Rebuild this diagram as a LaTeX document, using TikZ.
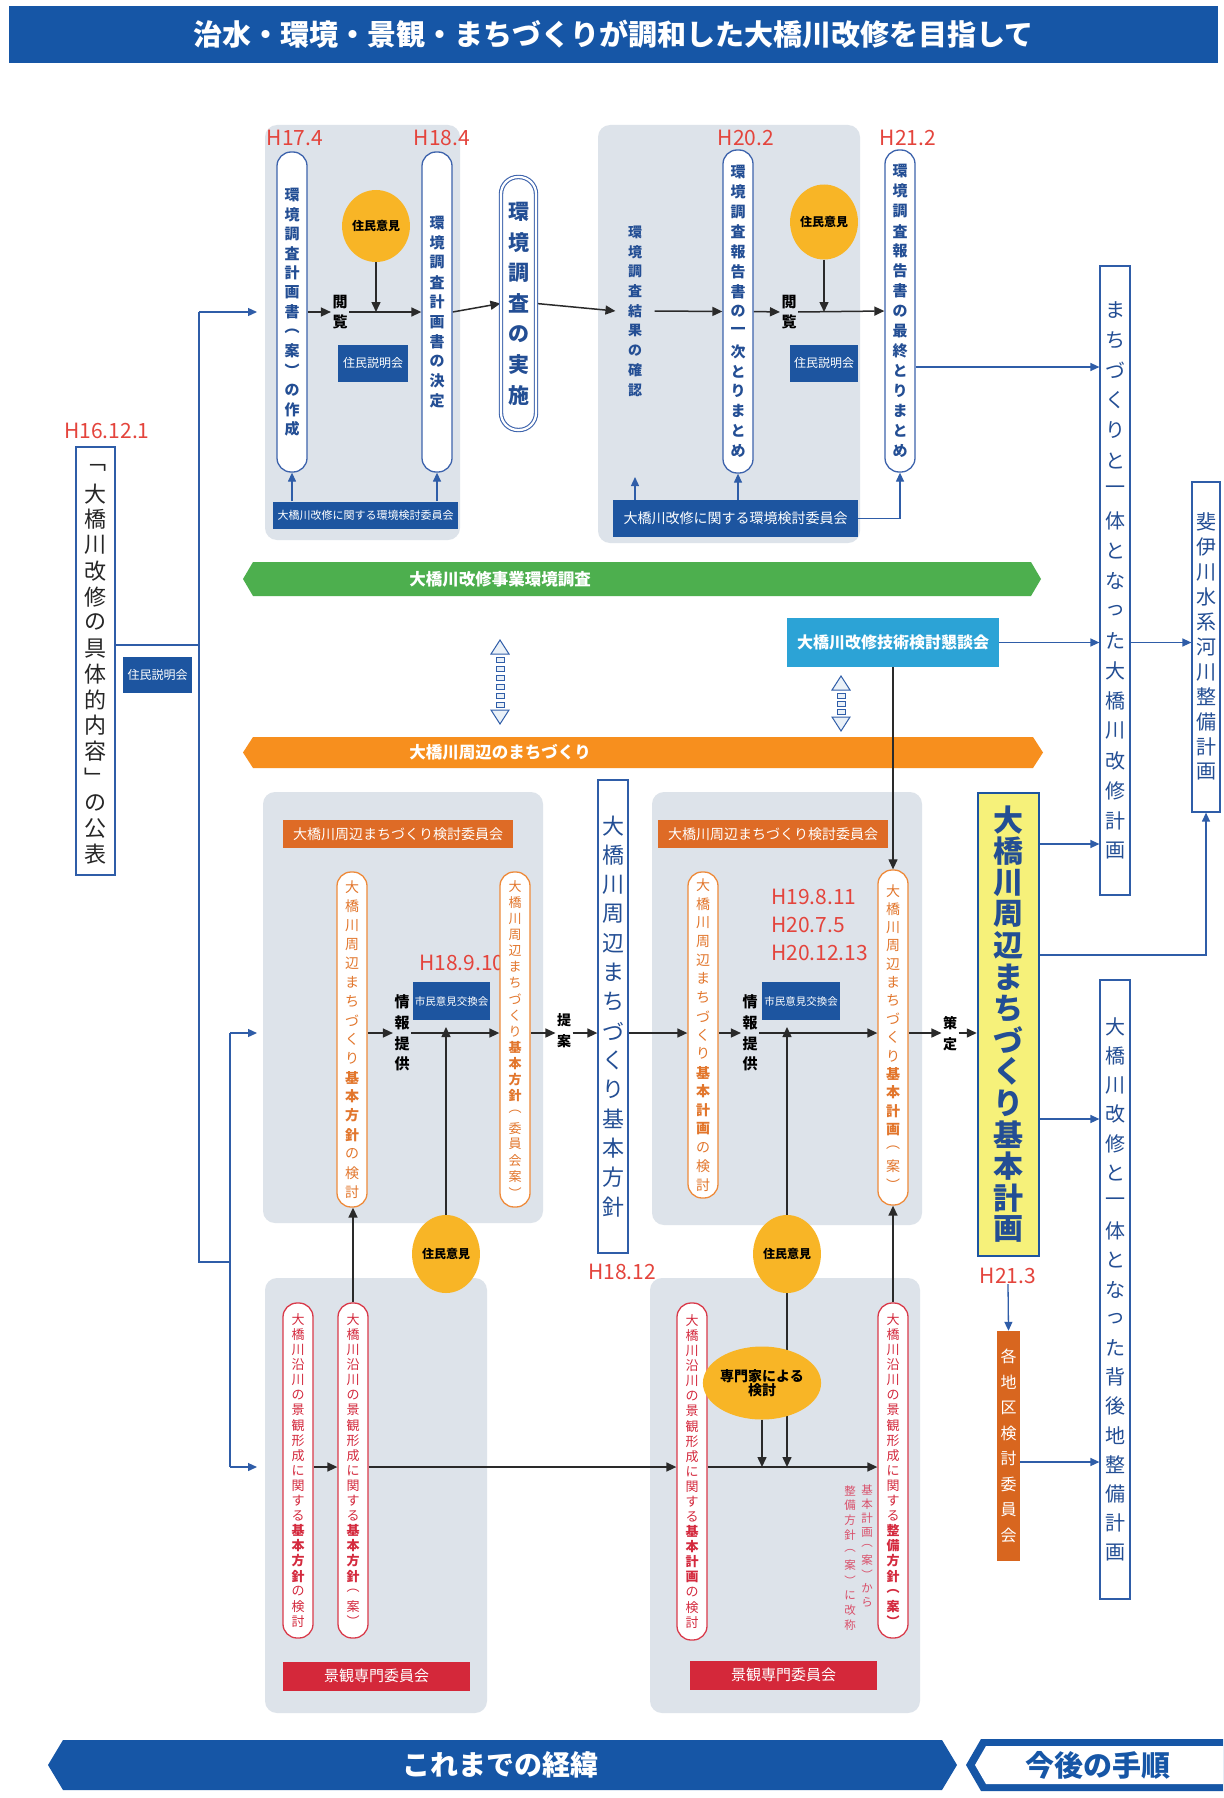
\documentclass[tikz,border=0pt]{standalone}
\usepackage{fontspec}
\setmainfont{Noto Sans CJK JP}
\usetikzlibrary{arrows.meta,shapes.geometric}
\pgfdeclarelayer{bg}
\pgfdeclarelayer{lines}
\pgfsetlayers{bg,lines,main}
\definecolor{titleblue}{HTML}{1656A6}
\definecolor{boxblue}{HTML}{1D55A0}
\definecolor{lineblue}{HTML}{2F5DA8}
\definecolor{pillblue}{HTML}{3D63AC}
\definecolor{txtblue}{HTML}{234E94}
\definecolor{datered}{HTML}{E4443C}
\definecolor{circyellow}{HTML}{F8B526}
\definecolor{panelgray}{HTML}{DDE3EA}
\definecolor{greenbar}{HTML}{4DAF4E}
\definecolor{orangebar}{HTML}{F78F1E}
\definecolor{orangehdr}{HTML}{DE6B26}
\definecolor{orangeline}{HTML}{EE8A3A}
\definecolor{orangetxt}{HTML}{E2762C}
\definecolor{redline}{HTML}{D93A4A}
\definecolor{redtxt}{HTML}{D42A3E}
\definecolor{redbox}{HTML}{D4283A}
\definecolor{konwa}{HTML}{2CA3D6}
\definecolor{yellowfill}{HTML}{F6F17A}
\definecolor{kakuchi}{HTML}{D8661F}
\definecolor{arrowblack}{HTML}{2A2A2A}
\definecolor{dblfill}{HTML}{EAF1F8}
\definecolor{notered}{HTML}{D9506A}
\makeatletter
\def\vtEND{VTEND}\def\vtB{VTB}\def\vtN{VTN}
\newdimen\vt@cell
\newcommand\vt[2][1.4em]{\vbox{\offinterlineskip\vt@cell=#1\relax\vt@loop#2\vtEND}}
\def\vt@loop#1{%
  \ifx\vtEND#1\let\vt@next\relax
  \else
    \ifx\vtB#1\bfseries\else
    \ifx\vtN#1\mdseries\else
      \vbox to\vt@cell{\vss\hbox to 1.05em{\hss#1\hss}\vss}%
    \fi\fi
    \let\vt@next\vt@loop
  \fi\vt@next}
\makeatother
\newcommand\mydblarrow[4]{%
  \draw[lineblue, line width=1pt, fill=dblfill] (#1-9,#2+14) -- (#1,#2) -- (#1+9,#2+14) -- cycle;
  \draw[lineblue, line width=1pt, fill=dblfill] (#1-9,#3-14) -- (#1,#3) -- (#1+9,#3-14) -- cycle;
  \foreach \yy in {#4} {\draw[lineblue, line width=0.9pt, fill=dblfill] (#1-4,\yy) rectangle (#1+4,\yy+5);}
}
\begin{document}
\begin{tikzpicture}[x=1pt,y=-1pt,
  fsz/.style={font=\fontsize{#1}{#1}\selectfont},
  bfsz/.style={font=\fontsize{#1}{#1}\selectfont\bfseries},
  panel/.style={fill=panelgray, rounded corners=12pt},
  pill/.style={draw=#1, line width=1.3pt, fill=white, rounded corners=14pt, inner sep=0pt, minimum width=30pt},
  datelbl/.style={text=datered, fsz=21, inner sep=0pt},
  smallbox/.style={fill=boxblue, text=white, inner sep=0pt},
  ycirc/.style={ellipse, fill=circyellow, inner sep=0pt, bfsz=12, text=black},
  rbox/.style={draw=lineblue, line width=1.2pt, fill=white, minimum width=30pt, inner sep=0pt, text=txtblue, fsz=20},
  ohdr/.style={fill=orangehdr, text=white, fsz=14, minimum width=230pt, minimum height=28pt, inner sep=0pt},
  kbox/.style={fill=redbox, text=white, fsz=15, minimum width=187pt, minimum height=29pt, inner sep=0pt},
  farrow/.style={draw=arrowblack, line width=1.5pt, -{Triangle[length=10pt,width=9pt]}},
  fline/.style={draw=arrowblack, line width=1.5pt},
  barrow/.style={draw=lineblue, line width=1.3pt, -{Triangle[length=9pt,width=8pt]}},
  bline/.style={draw=lineblue, line width=1.3pt}
]
\useasboundingbox (0,0) rectangle (1223,1798);
\begin{pgfonlayer}{bg}
\fill[white] (0,0) rectangle (1223,1798);
\fill[panel] (265,125) rectangle (460,540);
\fill[panel] (598,125) rectangle (860,543);
\fill[panel] (263,792) rectangle (543,1223);
\fill[panel] (652,792) rectangle (922,1225);
\fill[panel] (265,1278) rectangle (487,1713);
\fill[panel] (650,1278) rectangle (920,1713);
\fill[greenbar] (243,579) -- (253,562) -- (1031,562) -- (1041,579) -- (1031,596) -- (253,596) -- cycle;
\fill[orangebar] (243,752.5) -- (253,737) -- (1033,737) -- (1043,752.5) -- (1033,768) -- (253,768) -- cycle;
\fill[titleblue] (48,1765) -- (63,1740) -- (942,1740) -- (957,1765) -- (942,1790) -- (63,1790) -- cycle;
\fill[titleblue] (966,1765) -- (981,1739) -- (1223,1739) -- (1223,1791) -- (981,1791) -- cycle;
\fill[white] (975,1765) -- (986,1746) -- (1223,1746) -- (1223,1784) -- (986,1784) -- cycle;
\end{pgfonlayer}

% title
\node[fill=titleblue, minimum width=1209pt, minimum height=57pt, inner sep=0pt, text=white, bfsz=29] (title) at (613.5,34.5) {治水・環境・景観・まちづくりが調和した大橋川改修を目指して};

% left
\node[datelbl] (d0) at (107,431) {H16.12.1};
\node[draw=lineblue, line width=1.3pt, fill=white, minimum width=39pt, minimum height=428pt, inner sep=0pt, text=black!85, fsz=22] (kohyo) at (95.5,661) {\vt[1.17em]{﹁大橋川改修の具体的内容﹂の公表}};
\node[smallbox, minimum width=69pt, minimum height=36pt, fsz=12] (s0) at (157.5,675) {住民説明会};
\coordinate (spk) at (199,645);
\coordinate (sp1) at (199,312);
\coordinate (sp2) at (199,1262);
\coordinate (sp3) at (230,1262);
\coordinate (sp4) at (230,1033);
\coordinate (sp5) at (230,1467);
\coordinate (tg1) at (257,312);
\coordinate (tg2) at (257,1033);
\coordinate (tg3) at (257,1467);

% top left panel
\node[datelbl] (d1) at (295,138) {H17.4};
\node[datelbl] (d2) at (442,138) {H18.4};
\node[pill=pillblue, minimum height=320pt, text=txtblue, bfsz=15] (p1) at (292,312) {\vt[1.3em]{環境調査計画書︵案︶の作成}};
\node[pill=pillblue, minimum height=320pt, text=txtblue, bfsz=15] (p2) at (437,312) {\vt[1.32em]{環境調査計画書の決定}};
\node[ycirc, minimum width=52pt, minimum height=72pt] (c1) at (376,226) {住民意見};
\node[bfsz=15, inner sep=1pt] (e1) at (340,312) {\vt[1.37em]{閲覧}};
\node[smallbox, minimum width=70pt, minimum height=37pt, fsz=12] (s1) at (373,363) {住民説明会};
\node[smallbox, minimum width=185pt, minimum height=27pt, fsz=11] (m1) at (365.5,515) {大橋川改修に関する環境検討委員会};
\node[draw=pillblue, line width=1.1pt, double=white, double distance=2.2pt, fill=white, rounded corners=17pt, minimum width=35pt, minimum height=253pt, inner sep=0pt, text=txtblue, bfsz=21] (p3) at (518.5,303.5) {\vt[1.46em]{環境調査の実施}};

% top right panel
\node[bfsz=14, text=txtblue, inner xsep=12pt, inner ysep=0pt] (k1) at (635,311) {\vt[1.41em]{環境調査結果の確認}};
\coordinate (k1b) at (635,477);
\node[datelbl] (d3) at (746,138) {H20.2};
\node[datelbl] (d4) at (908,138) {H21.2};
\node[pill=pillblue, minimum height=323pt, text=txtblue, bfsz=15] (p4) at (738,311.5) {\vt[1.33em]{環境調査報告書の一次とりまとめ}};
\node[bfsz=15, inner sep=1pt] (e2) at (789,312) {\vt[1.37em]{閲覧}};
\node[ycirc, minimum width=52pt, minimum height=75pt] (c2) at (824,222) {住民意見};
\node[smallbox, minimum width=68pt, minimum height=37pt, fsz=12] (s2) at (824,363) {住民説明会};
\node[pill=pillblue, minimum height=322pt, text=txtblue, bfsz=15] (p5) at (900,311) {\vt[1.33em]{環境調査報告書の最終とりまとめ}};
\node[smallbox, minimum width=245pt, minimum height=37pt, fsz=14] (m2) at (735.5,518.5) {大橋川改修に関する環境検討委員会};

% bars
\node[bfsz=16.5, text=white] (gt) at (500,579) {大橋川改修事業環境調査};
\node[bfsz=16.5, text=white] (ot) at (500,752.5) {大橋川周辺のまちづくり};
\node[fill=konwa, text=white, bfsz=16, minimum width=212pt, minimum height=49pt, inner sep=0pt] (K) at (893,642.5) {大橋川改修技術検討懇談会};

% right boxes
\node[rbox, minimum height=629pt] (R1) at (1115,580.5) {\vt[1.5em]{まちづくりと一体となった大橋川改修計画}};
\node[rbox, minimum width=28pt, minimum height=330pt] (R2) at (1206,647) {\vt[1.25em]{斐伊川水系河川整備計画}};
\node[rbox, minimum height=619pt] (R3) at (1115,1289.5) {\vt[1.46em]{大橋川改修と一体となった背後地整備計画}};

% machizukuri panels
\node[ohdr] (h1) at (398,834) {大橋川周辺まちづくり検討委員会};
\node[ohdr] (h2) at (773,834) {大橋川周辺まちづくり検討委員会};
\node[pill=orangeline, minimum height=335pt, text=orangetxt, fsz=14] (p6) at (352,1039.5) {\vt[1.36em]{大橋川周辺まちづくり\vtB 基本方針\vtN の検討}};
\node[bfsz=15, inner sep=1pt] (i1) at (402,1033) {\vt[1.38em]{情報提供}};
\node[datelbl] (d5) at (462,963) {H18.9.10};
\node[smallbox, minimum width=77pt, minimum height=38pt, fsz=10.5] (x1) at (451.5,1001) {市民意見交換会};
\node[pill=orangeline, minimum height=335pt, text=orangetxt, fsz=13] (p7) at (515,1039.5) {\vt[1.24em]{大橋川周辺まちづくり\vtB 基本方針\vtN ︵委員会案︶}};
\node[bfsz=14, inner sep=1pt] (t1) at (564,1031) {\vt[1.5em]{提案}};
\node[draw=lineblue, line width=1.3pt, fill=white, minimum width=30pt, minimum height=473pt, inner sep=0pt, text=txtblue, fsz=22] (B1) at (613,1016.5) {\vt[1.33em]{大橋川周辺まちづくり基本方針}};
\node[datelbl] (d6) at (622,1272) {H18.12};
\node[ycirc, minimum width=52pt, minimum height=78pt] (c3) at (446,1254) {住民意見};

\node[pill=orangeline, minimum height=326pt, text=orangetxt, fsz=14] (p9) at (703,1035) {\vt[1.34em]{大橋川周辺まちづくり\vtB 基本計画\vtN の検討}};
\node[bfsz=15, inner sep=1pt] (i2) at (750,1033) {\vt[1.38em]{情報提供}};
\node[text=datered, font=\fontsize{21}{28}\selectfont, align=left, anchor=north west, inner sep=0pt] (d7) at (771,889) {H19.8.11\\H20.7.5\\H20.12.13};
\node[smallbox, minimum width=78pt, minimum height=38pt, fsz=10.5] (x2) at (801,1001) {市民意見交換会};
\node[pill=orangeline, minimum height=335pt, text=orangetxt, fsz=14] (p10) at (893,1037.5) {\vt[1.31em]{大橋川周辺まちづくり\vtB 基本計画\vtN ︵案︶}};
\node[ycirc, minimum width=53pt, minimum height=78pt] (c4) at (787,1254) {住民意見};
\node[bfsz=14, inner sep=1pt] (t2) at (950,1034) {\vt[1.5em]{策定}};
\node[fill=yellowfill, draw=boxblue, line width=2.5pt, minimum width=61pt, minimum height=463pt, inner sep=0pt, text=txtblue, bfsz=30] (Y) at (1008.5,1024.5) {\vt[1.05em]{大橋川周辺まちづくり基本計画}};
\node[datelbl] (d8) at (1008,1276) {H21.3};
\node[fill=kakuchi, text=white, fsz=16, minimum width=23pt, minimum height=230pt, inner sep=0pt] (A) at (1008.5,1446) {\vt[1.6em]{各地区検討委員会}};

% landscape panels
\node[pill=redline, minimum height=335pt, text=redtxt, fsz=13] (L1) at (298,1470.5) {\vt[1.16em]{大橋川沿川の景観形成に関する\vtB 基本方針\vtN の検討}};
\node[pill=redline, minimum height=335pt, text=redtxt, fsz=13] (L2) at (353,1470.5) {\vt[1.16em]{大橋川沿川の景観形成に関する\vtB 基本方針\vtN ︵案︶}};
\node[pill=redline, minimum height=337pt, text=redtxt, fsz=13] (L3) at (692,1471.5) {\vt[1.16em]{大橋川沿川の景観形成に関する\vtB 基本計画\vtN の検討}};
\node[pill=redline, minimum height=335pt, text=redtxt, fsz=13] (L4) at (893,1470.5) {\vt[1.16em]{大橋川沿川の景観形成に関する\vtB 整備方針︵案︶}};
\node[kbox] (k5) at (376.5,1676) {景観専門委員会};
\node[kbox] (k6) at (783.5,1675) {景観専門委員会};
\node[text=notered, fsz=11.5, anchor=north, inner sep=0pt] (n1) at (867,1483) {\vt[1.22em]{基本計画︵案︶から}};
\node[text=notered, fsz=11.5, anchor=north, inner sep=0pt] (n2) at (850,1483) {\vt[1.3em]{整備方針︵案︶に改称}};
\node[ycirc, bfsz=14, minimum width=90pt, minimum height=73pt, align=center] (S) at (762,1383) {専門家による\\検討};
\coordinate (lm) at (0,1467);
\coordinate (ym1) at (0,844);
\coordinate (ym2) at (0,955);
\coordinate (ym3) at (0,1119);
\coordinate (ym4) at (0,1462);

% bottom
\node[bfsz=28, text=white] (bb1) at (500,1765) {これまでの経緯};
\node[bfsz=29, text=titleblue] (bb2) at (1098,1765) {今後の手順};

% double arrows
\mydblarrow{500}{640}{724}{657,666,675,684,693,702}
\mydblarrow{841}{676}{731}{693,701,709}

\begin{pgfonlayer}{lines}
% spine
\draw[bline] (kohyo.east |- spk) -- (spk);
\draw[bline] (sp1) -- (sp2) -- (sp3);
\draw[bline] (sp4) -- (sp5);
\draw[barrow] (sp1) -- (tg1);
\draw[barrow] (sp4) -- (tg2);
\draw[barrow] (sp5) -- (tg3);
% top flow
\draw[farrow] (p1.east) -- (e1.west);
\draw[farrow] (e1.east) -- (p2.west);
\draw[farrow] (c1.south) -- (c1.south |- e1.east);
\draw[farrow] (p2.east) -- (p3.west);
\draw[farrow] (p3.east) -- (k1.west);
\draw[farrow] (k1.east) -- (p4.west);
\draw[farrow] (p4.east) -- (e2.west);
\draw[farrow] (e2.east) -- (p5.west);
\draw[farrow] (c2.south) -- (c2.south |- e2.east);
\draw[barrow] (m1.north -| p1.south) -- (p1.south);
\draw[barrow] (m1.north -| p2.south) -- (p2.south);
\draw[barrow] (m2.north -| k1b) -- (k1b);
\draw[barrow] (m2.north -| p4.south) -- (p4.south);
\draw[barrow] (m2.east) -- (m2.east -| p5.south) -- (p5.south);
\draw[barrow] ([yshift=-56pt]p5.east) -- ([yshift=-56pt]p5.east -| R1.west);
% konwa
\draw[barrow] (K.east) -- (K.east -| R1.west);
\draw[barrow] (K.east -| R1.east) -- (K.east -| R2.west);
\draw[farrow, line width=1.2pt] (K.south) -- (p10.north);
% machizukuri flow
\draw[farrow] (p6.east |- i1) -- (i1.west);
\draw[farrow] (i1.east) -- (i1.east -| p7.west);
\draw[farrow, shorten >=-6pt] (c3.north) -- (c3.north |- i1.east);
\draw[farrow] (i1 -| p7.east) -- (t1.west |- i1);
\draw[farrow] (t1.east |- i1) -- (i1 -| B1.west);
\draw[farrow] (i1 -| B1.east) -- (i1 -| p9.west);
\draw[farrow] (i2 -| p9.east) -- (i2.west);
\draw[farrow] (i2.east) -- (i2.east -| p10.west);
\draw[farrow, shorten >=-6pt] (c4.north) -- (c4.north |- i2.east);
\draw[farrow] (i2 -| p10.east) -- (t2.west |- i2);
\draw[farrow] (t2.east |- i2) -- (i2 -| Y.west);
\draw[barrow] (Y.east |- ym1) -- (R1.west |- ym1);
\draw[barrow] (Y.east |- ym2) -- (R2.south |- ym2) -- (R2.south);
\draw[barrow] (Y.east |- ym3) -- (R3.west |- ym3);
\draw[barrow] (d8.south) -- (A.north);
\draw[barrow] (A.east |- ym4) -- (R3.west |- ym4);
% landscape flow
\draw[farrow] (L1.east |- lm) -- (L2.west |- lm);
\draw[farrow] (L2.north) -- (L2.north |- p6.south);
\draw[farrow] (L2.east |- lm) -- (L3.west |- lm);
\draw[farrow] (L3.east |- lm) -- (L4.west |- lm);
\draw[farrow] (c4.south) -- (c4.south |- lm);
\draw[farrow] (S.south) -- (S.south |- lm);
\draw[farrow] (L4.north) -- (L4.north |- p10.south);
\end{pgfonlayer}
\end{tikzpicture}
\end{document}
